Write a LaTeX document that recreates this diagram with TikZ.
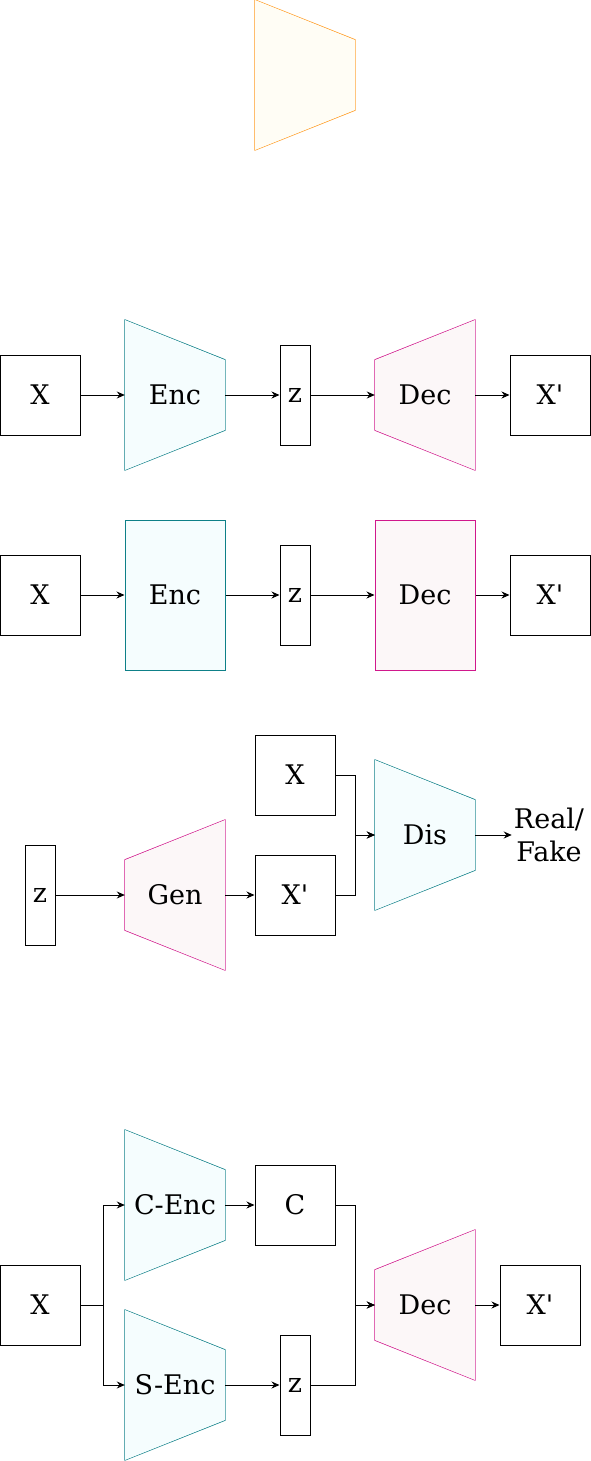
\documentclass[tikz,border=0pt]{standalone}
\usepackage{fontspec}
\setmainfont{DejaVu Serif}
\usetikzlibrary{positioning,arrows.meta}

\definecolor{enccol}{HTML}{0E8088}
\definecolor{encbg}{HTML}{F5FDFE}
\definecolor{deccol}{HTML}{D0188C}
\definecolor{decbg}{HTML}{FCF7F8}
\definecolor{topcol}{HTML}{FF9A1F}
\definecolor{topbg}{HTML}{FFFDF5}

\begin{document}
\begin{tikzpicture}[
    x=1pt,y=1pt,
    font=\fontsize{27}{33}\selectfont,
    box/.style={rectangle,draw,line width=1pt,minimum width=80pt,minimum height=80pt,inner sep=0pt},
    zbox/.style={box,minimum width=30pt,minimum height=100pt},
    net/.style={rectangle,inner sep=0pt,minimum width=100pt,minimum height=150pt},
    % wide side on the left
    trapl/.style n args={2}{net,
      path picture={\fill[#2] (path picture bounding box.north west) -- ([yshift=-40pt]path picture bounding box.north east)
        -- ([yshift=40pt]path picture bounding box.south east) -- (path picture bounding box.south west) -- cycle;},
      append after command={\pgfextra{\draw[#1,line width=1pt,line join=round] (\tikzlastnode.north west) -- ([yshift=-40pt]\tikzlastnode.north east)
        -- ([yshift=40pt]\tikzlastnode.south east) -- (\tikzlastnode.south west) -- cycle;}}},
    % wide side on the right
    trapr/.style n args={2}{net,
      path picture={\fill[#2] ([yshift=-40pt]path picture bounding box.north west) -- (path picture bounding box.north east)
        -- (path picture bounding box.south east) -- ([yshift=40pt]path picture bounding box.south west) -- cycle;},
      append after command={\pgfextra{\draw[#1,line width=1pt,line join=round] ([yshift=-40pt]\tikzlastnode.north west) -- (\tikzlastnode.north east)
        -- (\tikzlastnode.south east) -- ([yshift=40pt]\tikzlastnode.south west) -- cycle;}}},
    encnet/.style={trapl={enccol}{encbg}},
    decnet/.style={trapr={deccol}{decbg}},
    encrect/.style={net,draw=enccol,fill=encbg,line width=1pt},
    decrect/.style={net,draw=deccol,fill=decbg,line width=1pt},
    arr/.style={-{Stealth[length=8pt,width=7pt]},line width=1pt}
  ]
  \useasboundingbox (0,0) rectangle (591,-1461);

  \node(top) [trapl={topcol}{topbg}] at (305,-75) {};

  % autoencoder
  \node(x1) [box] at (40,-395) {X};
  \node(enc1) [encnet] at (175,-395) {Enc};
  \node(z1) [zbox] at (295,-395) {z};
  \node(dec1) [decnet] at (425,-395) {Dec};
  \node(xp1) [box] at (550,-395) {X\textquotesingle};
  \draw[arr] (x1) -- (enc1);
  \draw[arr] (enc1) -- (z1);
  \draw[arr] (z1) -- (dec1);
  \draw[arr] (dec1) -- (xp1);

  \node(x2) [box] at (40,-595) {X};
  \node(enc2) [encrect] at (175,-595) {Enc};
  \node(z2) [zbox] at (295,-595) {z};
  \node(dec2) [decrect] at (425,-595) {Dec};
  \node(xp2) [box] at (550,-595) {X\textquotesingle};
  \draw[arr] (x2) -- (enc2);
  \draw[arr] (enc2) -- (z2);
  \draw[arr] (z2) -- (dec2);
  \draw[arr] (dec2) -- (xp2);

  % gan
  \node(z3) [zbox] at (40,-895) {z};
  \node(gen) [decnet] at (175,-895) {Gen};
  \node(xf3) [box] at (295,-895) {X\textquotesingle};
  \node(xr3) [box] at (295,-775) {X};
  \node(dis) [encnet] at (425,-835) {Dis};
  \node(rf) [align=center,inner sep=2pt] at (549,-835) {Real/\\Fake};
  \draw[arr] (z3) -- (gen);
  \draw[arr] (gen) -- (xf3);
  \draw[arr] (xr3.east) -- ++(20,0) |- (dis);
  \draw[arr] (xf3.east) -- ++(20,0) |- (dis);
  \draw[arr] (dis) -- (rf);

  % content / style
  \node(x4) [box] at (40,-1305) {X};
  \node(cenc) [encnet] at (175,-1205) {C-Enc};
  \node(senc) [encnet] at (175,-1385) {S-Enc};
  \node(c4) [box] at (295,-1205) {C};
  \node(z4) [zbox] at (295,-1385) {z};
  \node(dec4) [decnet] at (425,-1305) {Dec};
  \node(xp4) [box] at (540,-1305) {X\textquotesingle};
  \draw[arr] (x4.east) -- ++(23,0) |- (cenc);
  \draw[arr] (x4.east) -- ++(23,0) |- (senc);
  \draw[arr] (cenc) -- (c4);
  \draw[arr] (senc) -- (z4);
  \draw[arr] (c4.east) -- ++(20,0) |- (dec4);
  \draw[arr] (z4.east) -- ++(45,0) |- (dec4);
  \draw[arr] (dec4) -- (xp4);
\end{tikzpicture}
\end{document}
